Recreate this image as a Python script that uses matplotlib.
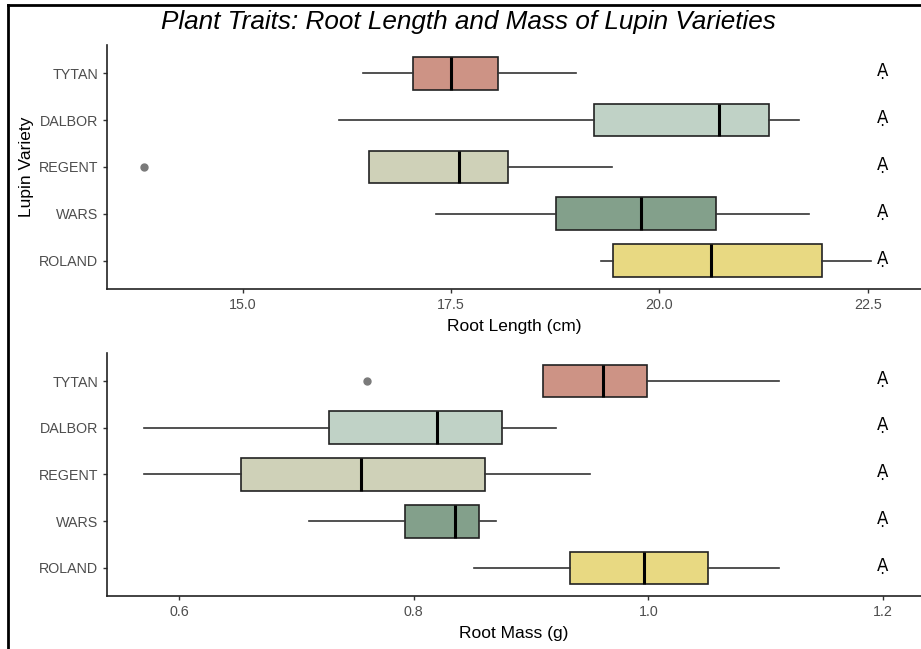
import matplotlib.pyplot as plt
from matplotlib.lines import Line2D

plt.rcParams['font.family'] = ['Liberation Sans', 'DejaVu Sans']

# varieties from bottom to top
varieties = ['ROLAND', 'WARS', 'REGENT', 'DALBOR', 'TYTAN']
colors = ['#E8D982', '#83A08B', '#CFD1B8', '#C0D2C6', '#CD9385']

# root length (cm): whisker low, q1, median, q3, whisker high
len_whislo = [19.30, 17.32, 16.52, 16.15, 16.44]
len_q1 = [19.44, 18.76, 16.52, 19.21, 17.04]
len_med = [20.62, 19.78, 17.59, 20.71, 17.50]
len_q3 = [21.95, 20.68, 18.18, 21.31, 18.06]
len_whishi = [22.54, 21.79, 19.43, 21.67, 19.00]
len_fliers = [[], [], [13.81], [], []]

# root mass (g)
mass_whislo = [0.851, 0.711, 0.570, 0.570, 0.910]
mass_q1 = [0.933, 0.793, 0.653, 0.728, 0.910]
mass_med = [0.996, 0.835, 0.755, 0.820, 0.961]
mass_q3 = [1.051, 0.856, 0.861, 0.875, 0.999]
mass_whishi = [1.111, 0.870, 0.950, 0.921, 1.111]
mass_fliers = [[], [], [], [], [0.760]]

letters = ['Ạ', 'Ạ', 'Ạ', 'Ạ', 'Ạ']


def make_stats(lo, q1, med, q3, hi, fl):
    stats = []
    for i in range(len(varieties)):
        stats.append({'whislo': lo[i], 'q1': q1[i], 'med': med[i],
                      'q3': q3[i], 'whishi': hi[i], 'fliers': fl[i],
                      'label': varieties[i]})
    return stats


def draw_panel(ax, stats, xlim, xticks, xfmt, xlabel, letter_x):
    pos = list(range(1, len(varieties) + 1))
    bp = ax.bxp(stats, positions=pos, orientation='horizontal', widths=0.7,
                showcaps=False, patch_artist=True,
                boxprops=dict(edgecolor='#222222', linewidth=1.2),
                whiskerprops=dict(color='#333333', linewidth=1.2),
                medianprops=dict(color='black', linewidth=2.2),
                flierprops=dict(marker='o', markerfacecolor='#7a7a7a',
                                markeredgecolor='#7a7a7a', markersize=5))
    for patch, c in zip(bp['boxes'], colors):
        patch.set_facecolor(c)
    for p, t in zip(pos, letters):
        ax.text(letter_x, p + 0.05, t, ha='center', va='center',
                fontsize=12, color='black', family=['DejaVu Sans'])
    ax.set_xlim(*xlim)
    ax.set_ylim(0.4, 5.6)
    ax.set_xticks(xticks)
    ax.set_xticklabels([xfmt % v for v in xticks])
    ax.set_yticks(pos)
    ax.set_yticklabels(varieties)
    ax.spines['top'].set_visible(False)
    ax.spines['right'].set_visible(False)
    for s in ['left', 'bottom']:
        ax.spines[s].set_color('#222222')
        ax.spines[s].set_linewidth(1.2)
    ax.tick_params(axis='both', colors='#333333', labelcolor='#4D4D4D',
                   labelsize=10.3, length=3, width=1)
    ax.set_xlabel(xlabel, fontsize=12.5, labelpad=5)


fig = plt.figure(figsize=(9.21, 6.49), dpi=100)
ax1 = fig.add_axes([0.1162, 0.5547, 0.8838, 0.3760])
ax2 = fig.add_axes([0.1162, 0.0817, 0.8838, 0.3744])

draw_panel(ax1, make_stats(len_whislo, len_q1, len_med, len_q3, len_whishi, len_fliers),
           (13.37, 23.14), [15.0, 17.5, 20.0, 22.5], '%.1f', 'Root Length (cm)', 22.68)
ax1.set_ylabel('Lupin Variety', fontsize=12.5, labelpad=3)

draw_panel(ax2, make_stats(mass_whislo, mass_q1, mass_med, mass_q3, mass_whishi, mass_fliers),
           (0.5386, 1.2324), [0.6, 0.8, 1.0, 1.2], '%.1f', 'Root Mass (g)', 1.2)

fig.text(0.509, 0.966, 'Plant Traits: Root Length and Mass of Lupin Varieties',
         ha='center', va='center', fontsize=18.8, style='italic')

# frame lines on the left and top edges
fig.add_artist(Line2D([0.009, 0.009], [0.0, 0.992], color='black', linewidth=2,
                      transform=fig.transFigure))
fig.add_artist(Line2D([0.009, 1.0], [0.992, 0.992], color='black', linewidth=2,
                      transform=fig.transFigure))

fig.savefig('out.png', dpi=100)
